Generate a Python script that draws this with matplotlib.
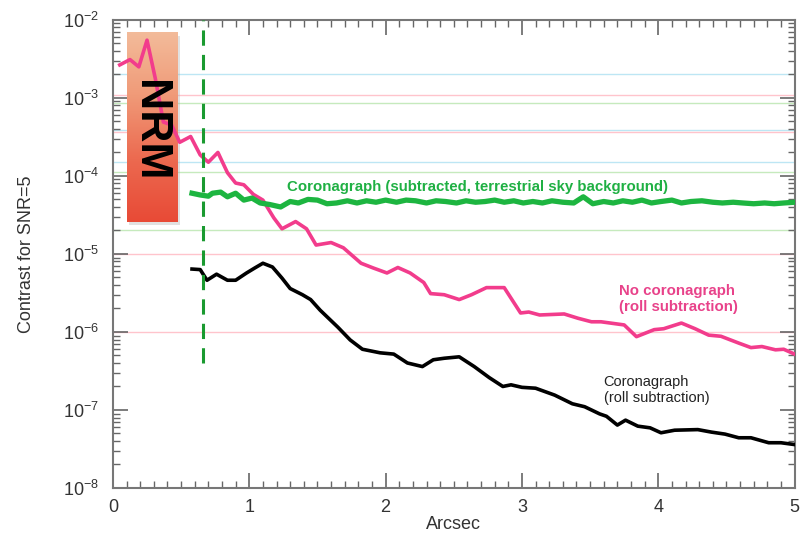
import matplotlib.pyplot as plt
import numpy as np
from matplotlib.patches import Rectangle
from matplotlib.colors import LinearSegmentedColormap
from matplotlib.ticker import NullFormatter, FixedLocator

plt.rcParams['font.family'] = ['Liberation Sans', 'DejaVu Sans']

# no coronagraph (roll subtraction)
pink_x = [0.05, 0.125, 0.19, 0.25, 0.31, 0.37, 0.43, 0.49, 0.57, 0.64, 0.70, 0.77, 0.84,
          0.90, 0.96, 1.03, 1.10, 1.18, 1.24, 1.34, 1.42, 1.49, 1.60, 1.69, 1.82, 1.91,
          2.01, 2.09, 2.18, 2.28, 2.33, 2.43, 2.54, 2.63, 2.74, 2.87, 2.99, 3.05, 3.13,
          3.31, 3.41, 3.51, 3.58, 3.75, 3.84, 3.97, 4.04, 4.17, 4.27, 4.37, 4.46, 4.59,
          4.68, 4.76, 4.86, 4.92, 5.00]
pink_y = [2.65e-3, 3.1e-3, 2.5e-3, 5.5e-3, 1.8e-3, 4.9e-4, 4.5e-4, 2.7e-4, 3.2e-4, 1.86e-4,
          1.5e-4, 2.0e-4, 1.1e-4, 8.1e-5, 7.7e-5, 5.8e-5, 4.9e-5, 2.9e-5, 2.1e-5, 2.6e-5,
          2.1e-5, 1.3e-5, 1.4e-5, 1.2e-5, 7.6e-6, 6.6e-6, 5.7e-6, 6.7e-6, 5.7e-6, 4.3e-6,
          3.1e-6, 3.0e-6, 2.6e-6, 3.0e-6, 3.7e-6, 3.7e-6, 1.75e-6, 1.8e-6, 1.65e-6, 1.7e-6,
          1.5e-6, 1.35e-6, 1.35e-6, 1.23e-6, 8.7e-7, 1.07e-6, 1.1e-6, 1.3e-6, 1.1e-6, 9.1e-7,
          8.8e-7, 7.2e-7, 6.3e-7, 6.5e-7, 5.9e-7, 6.0e-7, 5.2e-7]

# coronagraph, subtracted, terrestrial sky background
green_x = [0.58, 0.64, 0.70, 0.73, 0.79, 0.84, 0.90, 0.96, 1.02, 1.08, 1.15, 1.23, 1.30,
           1.36, 1.43, 1.50, 1.57, 1.64, 1.72, 1.79, 1.86, 1.93, 2.00, 2.08, 2.15, 2.22,
           2.30, 2.37, 2.44, 2.52, 2.59, 2.66, 2.73, 2.80, 2.87, 2.94, 3.01, 3.08, 3.15,
           3.22, 3.30, 3.38, 3.45, 3.52, 3.60, 3.67, 3.74, 3.81, 3.88, 3.95, 4.02, 4.10,
           4.17, 4.24, 4.32, 4.40, 4.47, 4.55, 4.62, 4.70, 4.78, 4.85, 4.92, 5.00]
green_y = [6.0e-5, 5.7e-5, 5.5e-5, 6.0e-5, 6.2e-5, 5.4e-5, 6.0e-5, 4.9e-5, 5.2e-5, 4.5e-5,
           4.3e-5, 4.0e-5, 4.7e-5, 4.5e-5, 5.0e-5, 4.9e-5, 4.4e-5, 4.5e-5, 4.8e-5, 4.5e-5,
           4.8e-5, 4.6e-5, 4.9e-5, 4.6e-5, 4.9e-5, 4.8e-5, 4.5e-5, 4.8e-5, 4.7e-5, 4.5e-5,
           4.8e-5, 4.6e-5, 4.7e-5, 4.9e-5, 4.6e-5, 4.8e-5, 4.5e-5, 4.7e-5, 4.5e-5, 4.8e-5,
           4.6e-5, 4.5e-5, 5.4e-5, 4.4e-5, 4.7e-5, 4.5e-5, 4.8e-5, 4.6e-5, 4.9e-5, 4.5e-5,
           4.7e-5, 4.9e-5, 4.5e-5, 4.7e-5, 4.8e-5, 4.6e-5, 4.5e-5, 4.6e-5, 4.5e-5, 4.4e-5,
           4.5e-5, 4.4e-5, 4.5e-5, 4.6e-5]

# coronagraph (roll subtraction)
black_x = [0.58, 0.64, 0.69, 0.76, 0.84, 0.90, 0.98, 1.04, 1.10, 1.17, 1.24, 1.30, 1.39,
           1.45, 1.52, 1.65, 1.74, 1.83, 1.96, 2.06, 2.16, 2.27, 2.35, 2.43, 2.54, 2.65,
           2.76, 2.86, 2.92, 3.00, 3.10, 3.24, 3.37, 3.46, 3.57, 3.62, 3.70, 3.76, 3.85,
           3.94, 4.02, 4.12, 4.29, 4.39, 4.49, 4.59, 4.68, 4.81, 4.90, 5.00]
black_y = [6.4e-6, 6.3e-6, 4.6e-6, 5.5e-6, 4.6e-6, 4.6e-6, 5.7e-6, 6.6e-6, 7.6e-6, 6.8e-6,
           4.9e-6, 3.6e-6, 3.0e-6, 2.6e-6, 1.9e-6, 1.15e-6, 7.9e-7, 6.0e-7, 5.4e-7, 5.2e-7,
           4.0e-7, 3.6e-7, 4.4e-7, 4.6e-7, 4.8e-7, 3.6e-7, 2.6e-7, 2.0e-7, 2.1e-7, 1.95e-7,
           1.9e-7, 1.55e-7, 1.2e-7, 1.1e-7, 8.9e-8, 8.3e-8, 6.4e-8, 7.4e-8, 6.2e-8, 5.9e-8,
           5.1e-8, 5.5e-8, 5.6e-8, 5.2e-8, 4.9e-8, 4.4e-8, 4.4e-8, 3.8e-8, 3.8e-8, 3.6e-8]

# faint reference levels
ref_cyan = [2.0e-3, 3.9e-4, 1.5e-4]
ref_pink = [1.1e-3, 3.7e-4, 1.0e-5, 1.0e-6]
ref_green = [8.6e-4, 1.12e-4, 2.0e-5]

iwa_x = 0.66
iwa_ymin = 4e-7
nrm_x = (0.10, 0.47)
nrm_y = (2.6e-5, 7.0e-3)

xmax = 5
ylo, yhi = 1e-8, 1e-2
x_ticks = [0, 1, 2, 3, 4, 5]
y_ticks = [1e-8, 1e-7, 1e-6, 1e-5, 1e-4, 1e-3, 1e-2]

fig = plt.figure(figsize=(8.01, 5.38), dpi=100)
ax = fig.add_axes([0.141, 0.093, 0.851, 0.870])
ax.set_yscale('log')

for v in ref_cyan:
    ax.axhline(v, color='#bde6f4', lw=1, zorder=1)
for v in ref_pink:
    ax.axhline(v, color='#ffc4cc', lw=1, zorder=1)
for v in ref_green:
    ax.axhline(v, color='#c6eabd', lw=1, zorder=1)

# NRM box: vertical gradient plus a soft shadow (placed in axes fractions
# so the gradient is not squeezed by the log scale)
def yfrac(v):
    return (np.log10(v) - np.log10(ylo)) / (np.log10(yhi) - np.log10(ylo))

bx0, bx1 = nrm_x[0] / xmax, nrm_x[1] / xmax
by0, by1 = yfrac(nrm_y[0]), yfrac(nrm_y[1])
grad = np.linspace(0, 1, 256).reshape(-1, 1)
cmap = LinearSegmentedColormap.from_list('nrm', ['#e84a36', '#ec6a50', '#f09a78', '#f3bb9a'])
sh = Rectangle((bx0 + 0.004, by0 - 0.008), bx1 - bx0, by1 - by0, transform=ax.transAxes,
               color='#aaaaaa', alpha=0.35, lw=0, zorder=2)
ax.add_patch(sh)
ax.imshow(grad, extent=[bx0, bx1, by0, by1], transform=ax.transAxes, cmap=cmap,
          aspect='auto', origin='lower', zorder=2.5, interpolation='bilinear')
ax.text(0.27, 3.8e-4, 'NRM', rotation=-90, fontsize=32, fontweight='bold',
        ha='center', va='center', color='black', zorder=4)

ax.plot(pink_x, pink_y, color='#f23c8c', lw=2.6, zorder=3)
ax.plot(green_x, green_y, color='#1db540', lw=3.8, zorder=3.2)
ax.plot(black_x, black_y, color='black', lw=2.6, zorder=3.1)

ax.plot([iwa_x, iwa_x], [iwa_ymin, yhi], color='#1a9a30', lw=2.2,
        dashes=(5, 3), zorder=3.3)

ax.text(1.28, 7.3e-5, 'Coronagraph (subtracted, terrestrial sky background)',
        color='#1fb043', fontsize=10.8, fontweight='bold', ha='left', va='center')
ax.text(3.71, 2.65e-6, 'No coronagraph\n(roll subtraction)', color='#e8428a',
        fontsize=10.8, fontweight='bold', ha='left', va='center', linespacing=1.15)
ax.text(3.60, 1.8e-7, 'Coronagraph\n(roll subtraction)', color='#222222',
        fontsize=10.5, ha='left', va='center', linespacing=1.15)

ax.set_xlim(0, xmax)
ax.set_ylim(ylo, yhi)
ax.set_xticks(x_ticks)
ax.set_xticks(np.arange(0, 5.01, 0.1), minor=True)
ax.set_yticks(y_ticks)
minor_y = [m * 10.0 ** e for e in range(-8, -2) for m in range(2, 10)]
ax.yaxis.set_minor_locator(FixedLocator(minor_y))
ax.yaxis.set_minor_formatter(NullFormatter())
ax.tick_params(which='both', direction='in', top=True, right=True, colors='#666666',
               labelcolor='#333333', labelsize=13)
ax.tick_params(which='major', length=11, width=1.2)
ax.tick_params(which='minor', length=5, width=1.0)
ax.tick_params(axis='x', pad=8)
ax.tick_params(axis='y', pad=10)
for s in ax.spines.values():
    s.set_color('#777777')
    s.set_linewidth(1.5)

ax.set_xlabel('Arcsec', fontsize=13, color='#333333', labelpad=0)
ax.set_ylabel('Contrast for SNR=5', fontsize=13, color='#333333', labelpad=20)

fig.savefig('out.png', dpi=100)
